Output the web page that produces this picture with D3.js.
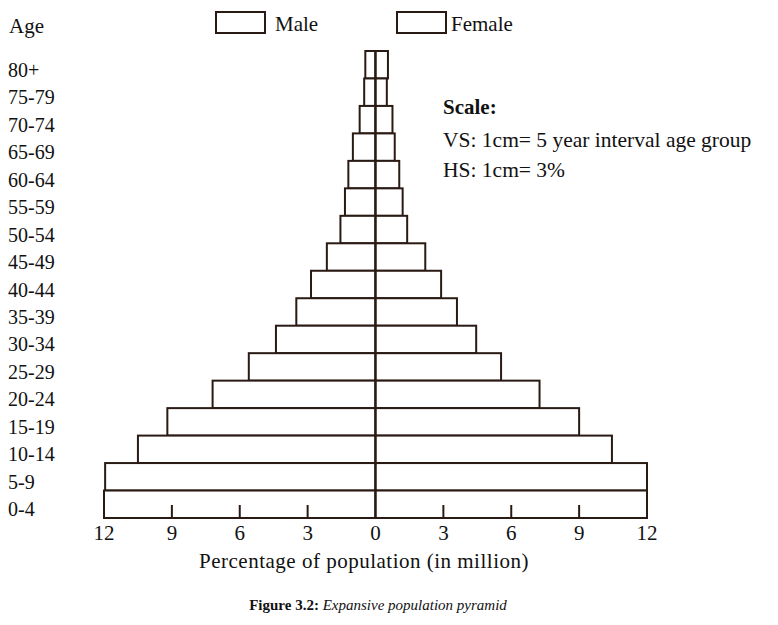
<!DOCTYPE html>
<html><head><meta charset="utf-8">
<script src="https://cdn.jsdelivr.net/npm/d3@7"></script>
<style>body{margin:0;background:#fff}text{font-family:"Liberation Serif",serif;fill:#111}</style>
</head><body><div id="chart"></div>
<script>
const ages = ["80+","75-79","70-74","65-69","60-64","55-59","50-54","45-49","40-44","35-39","30-34","25-29","20-24","15-19","10-14","5-9","0-4"];
const male = [0.45,0.5,0.7,1.0,1.2,1.35,1.55,2.15,2.85,3.5,4.4,5.6,7.2,9.2,10.5,11.95,12];
const female = [0.55,0.5,0.75,0.85,1.05,1.2,1.4,2.2,2.9,3.6,4.45,5.55,7.25,9.0,10.45,12,12];
const ticks = [12,9,6,3,0,3,6,9,12];
const scaleLines = ["VS: 1cm= 5 year interval age group","HS: 1cm= 3%"];

const W = 778, H = 625, stroke = "#2a1a14";
const svg = d3.select("#chart").append("svg").attr("width", W).attr("height", H);

const x = d3.scaleLinear().domain([-12, 12]).range([104, 647]);
const y = d3.scaleBand().domain(ages).range([51, 518]);

// bars
const g = svg.append("g");
ages.forEach((a, i) => {
  g.append("rect").attr("x", x(-male[i])).attr("y", y(a))
    .attr("width", x(0) - x(-male[i])).attr("height", y.bandwidth())
    .attr("fill", "#fff").attr("stroke", stroke).attr("stroke-width", 2);
  g.append("rect").attr("x", x(0)).attr("y", y(a))
    .attr("width", x(female[i]) - x(0)).attr("height", y.bandwidth())
    .attr("fill", "#fff").attr("stroke", stroke).attr("stroke-width", 2);
});

// centre line + bottom axis
svg.append("line").attr("x1", x(0)).attr("x2", x(0)).attr("y1", 51).attr("y2", 518)
  .attr("stroke", stroke).attr("stroke-width", 2);
svg.append("line").attr("x1", x(-12)).attr("x2", x(12)).attr("y1", 518).attr("y2", 518)
  .attr("stroke", stroke).attr("stroke-width", 2);
ticks.forEach((t, i) => {
  const v = i < 4 ? -t : t;
  if (t !== 0 && t !== 12)
    svg.append("line").attr("x1", x(v)).attr("x2", x(v)).attr("y1", 505).attr("y2", 518)
      .attr("stroke", stroke).attr("stroke-width", 2);
  svg.append("text").attr("x", x(v)).attr("y", 540).attr("text-anchor", "middle")
    .style("font-size", "21px").text(t);
});

// age labels
svg.append("text").attr("x", 9).attr("y", 33).style("font-size", "21px").text("Age");
ages.forEach(a => {
  svg.append("text").attr("x", 8).attr("y", y(a) + y.bandwidth() / 2 + 12)
    .style("font-size", "20px").text(a);
});

// legend
[["Male", 216, 275], ["Female", 397, 451]].forEach(([lab, bx, tx]) => {
  svg.append("rect").attr("x", bx).attr("y", 12).attr("width", 49).attr("height", 21)
    .attr("fill", "#fff").attr("stroke", stroke).attr("stroke-width", 2);
  svg.append("text").attr("x", tx).attr("y", 31).style("font-size", "21px").text(lab);
});

// scale note
svg.append("text").attr("x", 443).attr("y", 114).style("font-size", "21px")
  .style("font-weight", "bold").text("Scale:");
scaleLines.forEach((s, i) => {
  svg.append("text").attr("x", 443).attr("y", 147 + i * 30).style("font-size", "21.5px").text(s);
});

// axis title + caption
svg.append("text").attr("x", 364).attr("y", 568).attr("text-anchor", "middle")
  .style("font-size", "21px").style("letter-spacing", "0.5px").text("Percentage of population (in million)");
const cap = svg.append("text").attr("x", 378).attr("y", 610).attr("text-anchor", "middle").style("font-size", "15px");
cap.append("tspan").style("font-weight", "bold").text("Figure 3.2: ");
cap.append("tspan").style("font-style", "italic").text("Expansive population pyramid");
</script></body></html>
